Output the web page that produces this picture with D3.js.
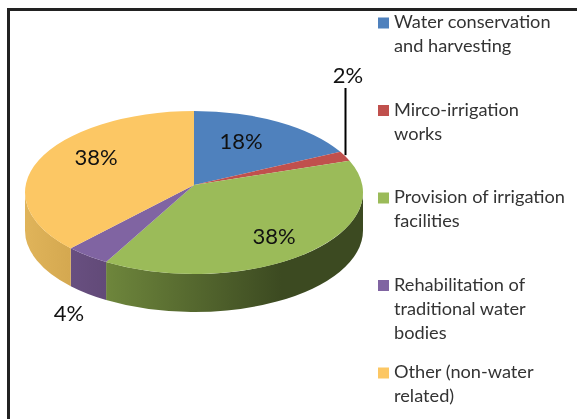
<!DOCTYPE html>
<html>
<head>
<meta charset="utf-8">
<script src="https://cdn.jsdelivr.net/npm/d3@7"></script>
<style>
  html, body { margin: 0; padding: 0; background: #fff; }
  svg { display: block; filter: blur(0.4px); }
  text { font-family: Lato, "Open Sans", sans-serif; }
</style>
</head>
<body>
<div id="chart"></div>
<script>
// Values
const categories = [
    "Water conservation and harvesting",
    "Mirco-irrigation works",
    "Provision of irrigation facilities",
    "Rehabilitation of traditional water bodies",
    "Other (non-water related)"
];
const legendLines = [
    ["Water conservation", "and harvesting"],
    ["Mirco-irrigation", "works"],
    ["Provision of irrigation", "facilities"],
    ["Rehabilitation of", "traditional water", "bodies"],
    ["Other (non-water", "related)"]
];
const shares = [18, 2, 38, 4, 38];
const colors = ["#4f81bd", "#c0504d", "#9bbb59", "#8064a2", "#fcc764"];
// wall shading: [left colour, right colour]
const wallColors = [null, null, ["#6e863c", "#3c4a21"], ["#684f80", "#624a78"], ["#e0b45a", "#d4a850"]];

const width = 577, height = 419;

const svg = d3.select("#chart").append("svg")
    .attr("width", width)
    .attr("height", height);

// Frame, only top and left are in the crop
svg.append("path")
    .attr("d", `M8.5,${height} V9.5 H${width}`)
    .attr("fill", "none")
    .attr("stroke", "#222")
    .attr("stroke-width", 3);

// Tilted pie: ellipse for the rim, apex sits above the ellipse centre (perspective)
const cx = 194, cy = 192.5, rx = 169, ry = 81.5;
const apexY = 185, depth = 38;

const pie = d3.pie().value(d => d).sort(null);
const arcs = pie(shares);

// Where the ray from the apex at pie angle a hits the rim
const rimPoint = (a) => {
    const dx = Math.sin(a) * rx;
    const dy = -Math.cos(a) * ry;
    const oy = apexY - cy;
    const A = (dx * dx) / (rx * rx) + (dy * dy) / (ry * ry);
    const B = 2 * oy * dy / (ry * ry);
    const C = (oy * oy) / (ry * ry) - 1;
    const s = (-B + Math.sqrt(B * B - 4 * A * C)) / (2 * A);
    return [cx + s * dx, apexY + s * dy];
};

// Angle along the ellipse for a rim point, clockwise from top
const rimParam = (p) => {
    let t = Math.atan2((p[0] - cx) / rx, -(p[1] - cy) / ry);
    if (t < -1e-6) t += 2 * Math.PI;
    return t;
};
const ellipsePoint = (t) => [cx + rx * Math.sin(t), cy - ry * Math.cos(t)];

const defs = svg.append("defs");

// Side walls first, only the front half of the rim shows
arcs.forEach((d, i) => {
    if (!wallColors[i]) return;
    const t0 = Math.max(rimParam(rimPoint(d.startAngle)), Math.PI / 2);
    let t1 = rimParam(rimPoint(d.endAngle));
    if (t1 < 1e-3) t1 = 2 * Math.PI;
    t1 = Math.min(t1, 3 * Math.PI / 2);
    if (t1 <= t0) return;

    const p0 = ellipsePoint(t0), p1 = ellipsePoint(t1);
    const xs = d3.extent([p0[0], p1[0]]);
    const id = `wall-${i}`;
    // the green wall reaches its darkest part before the right edge
    const grad = defs.append("linearGradient")
        .attr("id", id)
        .attr("gradientUnits", "userSpaceOnUse")
        .attr("x1", xs[0]).attr("y1", 0)
        .attr("x2", i === 2 ? xs[0] + 175 : xs[1]).attr("y2", 0);
    grad.append("stop").attr("offset", "0%").attr("stop-color", wallColors[i][0]);
    grad.append("stop").attr("offset", "100%").attr("stop-color", wallColors[i][1]);

    svg.append("path")
        .attr("d", `M${p0} A${rx},${ry} 0 0 1 ${p1} L${p1[0]},${p1[1] + depth} A${rx},${ry} 0 0 0 ${p0[0]},${p0[1] + depth} Z`)
        .attr("fill", `url(#${id})`);
});

// Top surface
arcs.forEach((d, i) => {
    const p0 = rimPoint(d.startAngle), p1 = rimPoint(d.endAngle);
    const large = (rimParam(p1) || 2 * Math.PI) - rimParam(p0) > Math.PI ? 1 : 0;
    svg.append("path")
        .attr("d", `M${cx},${apexY} L${p0} A${rx},${ry} 0 ${large} 1 ${p1} Z`)
        .attr("fill", colors[i]);
});

// Leader line for the 2% slice
const mid2 = rimPoint((arcs[1].startAngle + arcs[1].endAngle) / 2);
svg.append("line")
    .attr("x1", 345.5).attr("x2", 345.5)
    .attr("y1", 88).attr("y2", mid2[1] - 1)
    .attr("stroke", "#000")
    .attr("stroke-width", 2);

// Percent labels, placed by hand like in the original
const labelPos = [[241, 140], [348, 74], [274, 235], [69, 312], [96, 156]];
svg.selectAll(".pct")
    .data(arcs)
    .enter()
    .append("text")
    .attr("class", "pct")
    .attr("x", (d, i) => labelPos[i][0])
    .attr("y", (d, i) => labelPos[i][1])
    .attr("text-anchor", "middle")
    .attr("dominant-baseline", "central")
    .attr("font-size", 22)
    .attr("fill", "#111")
    .text(d => `${d.data}%`);

// Legend
const rowY = d3.scalePoint().domain(categories).range([23, 373]);
const legend = svg.selectAll(".legend")
    .data(categories)
    .enter()
    .append("g")
    .attr("class", "legend")
    .attr("transform", d => `translate(378,${rowY(d)})`);

legend.append("rect")
    .attr("x", 0).attr("y", -5.5)
    .attr("width", 11).attr("height", 11)
    .attr("fill", (d, i) => colors[i]);

legend.append("text")
    .attr("font-size", 18.2)
    .attr("fill", "#333")
    .selectAll("tspan")
    .data((d, i) => legendLines[i])
    .enter()
    .append("tspan")
    .attr("x", 16)
    .attr("y", (d, i) => 5 + i * 24)
    .text(d => d);
</script>
</body>
</html>
